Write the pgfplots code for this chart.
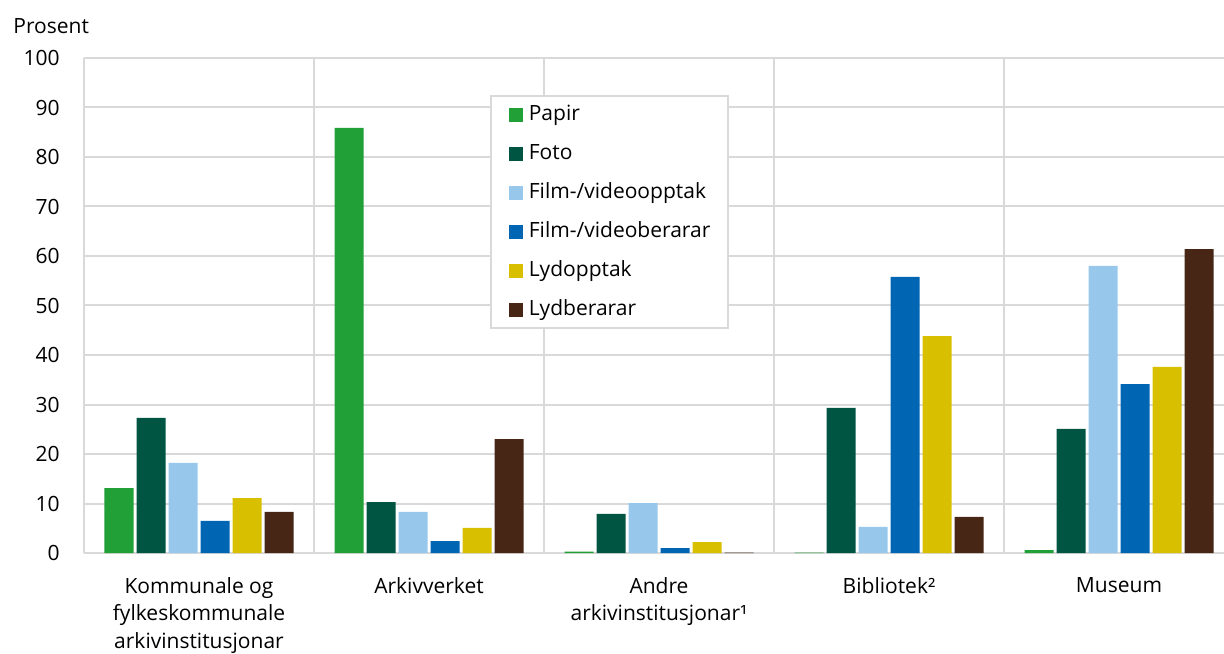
\documentclass[border=0pt]{standalone}
\usepackage{fontspec}
\setmainfont{Open Sans}
\usepackage{pgfplots}
\pgfplotsset{compat=1.18}

\definecolor{gridgray}{HTML}{D9D9D9}
\definecolor{cPapir}{HTML}{21A038}
\definecolor{cFoto}{HTML}{005442}
\definecolor{cFilmOpp}{HTML}{97C8EC}
\definecolor{cFilmBer}{HTML}{0066B3}
\definecolor{cLydOpp}{HTML}{D8C000}
\definecolor{cLydBer}{HTML}{472615}

\newcommand{\lbl}{\fontsize{10.5}{13.75}\selectfont}

\begin{document}
\begin{tikzpicture}
\begin{axis}[
  width=570pt, height=247.5pt, scale only axis,
  ybar=1.5pt, bar width=14.5pt,
  xmin=-0.5, xmax=4.4565, ymin=0, ymax=100,
  xtick={0,1,2,3,4},
  xticklabels={{Kommunale og\\fylkeskommunale\\arkivinstitusjonar},Arkivverket,{Andre\\arkivinstitusjonar¹},Bibliotek²,Museum},
  minor xtick={0.5,1.5,2.5,3.5},
  ytick={0,10,...,100},
  major tick length=0pt, minor tick length=0pt,
  ymajorgrids, xminorgrids,
  grid style={draw=gridgray, line width=1pt},
  minor grid style={draw=gridgray, line width=1pt},
  axis lines*=left,
  axis line style={draw=gridgray, line width=1pt, -},
  /pgf/number format/assume math mode=true,
  tick label style={font=\lbl, text=black},
  xticklabel style={align=center, anchor=north, yshift=-8.5pt},
  yticklabel style={xshift=-8.7pt},
  clip=false,
  legend cell align=left,
  legend image code/.code={\fill[#1] (0pt,-3.5pt) rectangle (7pt,3.5pt);},
  legend style={at={(0.356,0.925)}, anchor=north west, draw=gridgray, line width=1pt,
    font=\lbl, inner xsep=9pt, inner ysep=4pt, row sep=9pt,
    nodes={text height=8pt, text depth=2.5pt, inner sep=0pt},
    /tikz/every odd column/.append style={column sep=3pt}},
]
\addplot[draw=none, fill=cPapir] coordinates {(0,13.1) (1,85.9) (2,0.3) (3,0.1) (4,0.6)};
\addplot[draw=none, fill=cFoto] coordinates {(0,27.3) (1,10.3) (2,7.9) (3,29.3) (4,25.1)};
\addplot[draw=none, fill=cFilmOpp] coordinates {(0,18.2) (1,8.3) (2,10.1) (3,5.3) (4,58.0)};
\addplot[draw=none, fill=cFilmBer] coordinates {(0,6.5) (1,2.4) (2,1.0) (3,55.8) (4,34.1)};
\addplot[draw=none, fill=cLydOpp] coordinates {(0,11.1) (1,5.1) (2,2.2) (3,43.8) (4,37.6)};
\addplot[draw=none, fill=cLydBer] coordinates {(0,8.3) (1,23.0) (2,0.1) (3,7.3) (4,61.4)};
\legend{Papir,Foto,Film-/videoopptak,Film-/videoberarar,Lydopptak,Lydberarar}
\node[anchor=west, font=\lbl, inner sep=0pt, xshift=-35.5pt, yshift=16pt] at (rel axis cs:0,1) {Prosent};
\end{axis}
\pgfresetboundingbox
\useasboundingbox (-42pt,-50pt) rectangle (570pt,276.5pt);
\end{tikzpicture}
\end{document}
